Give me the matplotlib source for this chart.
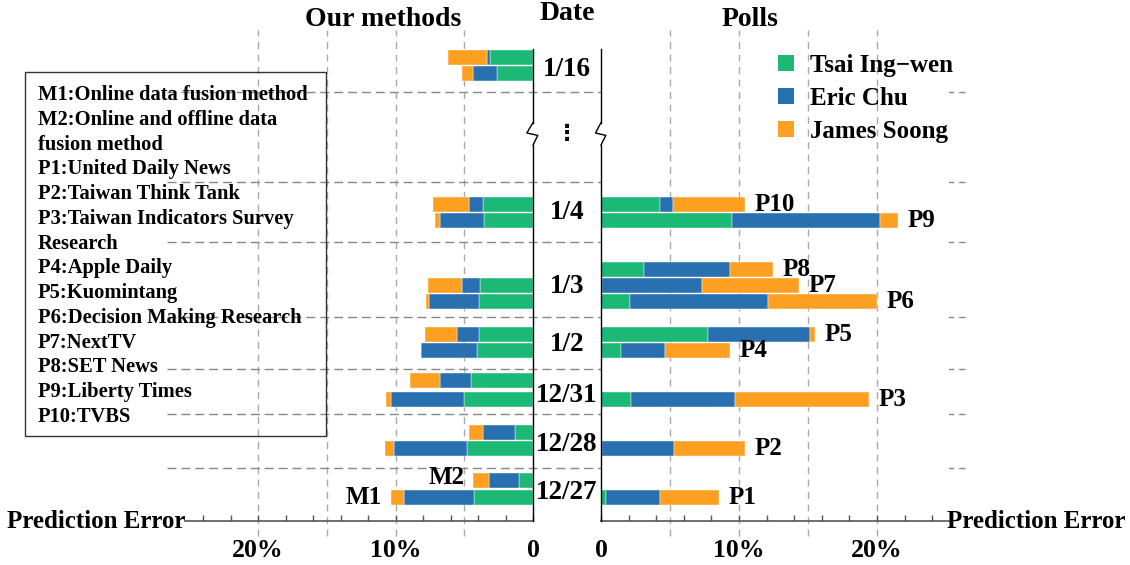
import numpy as np
import matplotlib
matplotlib.use("Agg")
import matplotlib.pyplot as plt
from matplotlib.patches import Patch, Rectangle
from matplotlib.transforms import blended_transform_factory

plt.rcParams['font.family'] = ['Liberation Serif', 'DejaVu Serif']
plt.rcParams['font.weight'] = 'bold'

# ---- data (prediction error, %) ----
dates = ['12/27', '12/28', '12/31', '1/2', '1/3', '1/4', '1/16']
m1_tsai = np.array([4.27, 4.78, 5.00, 4.10, 3.90, 3.56, 2.60])
m1_chu = np.array([5.14, 5.36, 5.36, 4.07, 3.64, 3.20, 1.77])
m1_soong = np.array([0.95, 0.60, 0.34, 0.00, 0.24, 0.39, 0.82])
m2_tsai = np.array([1.00, 1.29, 4.49, 3.93, 3.85, 3.64, 3.13])
m2_chu = np.array([2.18, 2.33, 2.25, 1.58, 1.29, 1.04, 0.20])
m2_soong = np.array([1.21, 1.04, 2.18, 2.35, 2.50, 2.62, 2.84])

polls = ['P1', 'P2', 'P3', 'P4', 'P5', 'P6', 'P7', 'P8', 'P9', 'P10']
poll_tsai = np.array([0.38, 0.05, 2.20, 1.45, 7.78, 2.12, 0.10, 3.14, 9.51, 4.30])
poll_chu = np.array([3.91, 5.22, 7.51, 3.21, 7.39, 10.00, 7.20, 6.23, 10.72, 0.92])
poll_soong = np.array([4.28, 5.14, 9.73, 4.71, 0.34, 7.87, 7.05, 3.09, 1.26, 5.22])

candidates = ['Tsai Ing\u2212wen', 'Eric Chu', 'James Soong']
abbrev_lines = [
    'M1:Online data fusion method',
    'M2:Online and offline data',
    'fusion method',
    'P1:United Daily News',
    'P2:Taiwan Think Tank',
    'P3:Taiwan Indicators Survey',
    'Research',
    'P4:Apple Daily',
    'P5:Kuomintang',
    'P6:Decision Making Research',
    'P7:NextTV',
    'P8:SET News',
    'P9:Liberty Times',
    'P10:TVBS',
]

# ---- layout (row units, 1 row = 16 px above the x axis) ----
y_m1 = np.array([1.47, 4.53, 7.59, 10.66, 13.72, 18.78, 27.97])
y_m2 = np.array([2.53, 5.56, 8.78, 11.66, 14.72, 19.78, 28.97])
y_poll = np.array([1.47, 4.53, 7.59, 10.66, 11.66, 13.72, 14.72, 15.72, 18.78, 19.78])
y_date = np.array([1.78, 4.78, 7.84, 11.06, 14.64, 19.27, 28.2])
y_sep = [3.31, 6.69, 9.5, 12.75, 17.45, 21.2, 26.8]
bar_h = 0.94

colors = ['#1bb876', '#2970b0', '#fda021']
W, H = 1130, 565

fig = plt.figure(figsize=(11.3, 5.65), dpi=100)
ax_l = fig.add_axes([185 / W, (H - 521) / H, 348 / W, 473 / H])
ax_r = fig.add_axes([601 / W, (H - 521) / H, 348 / W, 473 / H])
ax_l.set_xlim(348 / 13.75, 0)
ax_r.set_xlim(0, 348 / 13.8)

for ax in (ax_l, ax_r):
    ax.set_ylim(0, 473 / 16)
    for s in ('top', 'left', 'right'):
        ax.spines[s].set_visible(False)
    ax.spines['bottom'].set_color('#555555')
    ax.spines['bottom'].set_linewidth(1.2)
    ticks = np.arange(0, 25, 2)
    ax.set_xticks(ticks)
    ax.set_xticklabels(['0' if t == 0 else ('%d%%' % t if t % 10 == 0 else '') for t in ticks])
    ax.tick_params(axis='x', direction='in', length=4, width=1, color='#555555',
                   pad=13, labelsize=18.5)
    ax.set_yticks([])
    # vertical grid
    ax.vlines([5, 10, 15, 20], -0.032, 1.038, transform=ax.get_xaxis_transform(),
              colors='#aaaaaa', linestyles=(0, (5, 4)), linewidth=1, clip_on=False, zorder=0)

# horizontal separators across both panels
trans_sep = blended_transform_factory(fig.transFigure, ax_l.transData)
for y in y_sep:
    ax_l.plot([167 / W, 965 / W], [y, y], transform=trans_sep, color='#888888',
              linestyle=(0, (6.5, 3.5)), linewidth=1, clip_on=False, zorder=0)

# method bars
for yy, a, b, c in ((y_m1, m1_tsai, m1_chu, m1_soong), (y_m2, m2_tsai, m2_chu, m2_soong)):
    ax_l.barh(yy, a, bar_h, color=colors[0], edgecolor='white', linewidth=0.3, zorder=2)
    ax_l.barh(yy, b, bar_h, left=a, color=colors[1], edgecolor='white', linewidth=0.3, zorder=2)
    ax_l.barh(yy, c, bar_h, left=a + b, color=colors[2], edgecolor='white', linewidth=0.3, zorder=2)

ax_l.annotate('M1', (m1_tsai[0] + m1_chu[0] + m1_soong[0], y_m1[0]), xytext=(-6, 0),
              textcoords='offset points', ha='right', va='center', fontsize=18)
ax_l.annotate('M2', (m2_tsai[0] + m2_chu[0] + m2_soong[0], y_m2[0]), xytext=(-6, 2),
              textcoords='offset points', ha='right', va='center', fontsize=18)

# poll bars
ax_r.barh(y_poll, poll_tsai, bar_h, color=colors[0], edgecolor='white', linewidth=0.3, zorder=2)
ax_r.barh(y_poll, poll_chu, bar_h, left=poll_tsai, color=colors[1], edgecolor='white', linewidth=0.3, zorder=2)
ax_r.barh(y_poll, poll_soong, bar_h, left=poll_tsai + poll_chu, color=colors[2], edgecolor='white', linewidth=0.3, zorder=2)
totals = poll_tsai + poll_chu + poll_soong
for name, t, yy in zip(polls, totals, y_poll):
    ax_r.annotate(name, (t, yy), xytext=(7, 0), textcoords='offset points',
                  ha='left', va='center', fontsize=18)

# inner spines with break marks
ax_l.plot([0, 0], [29.5, 24.9], color='black', lw=1, clip_on=False, zorder=3)
ax_l.plot([0, 0.45, -0.35, 0], [24.9, 24.25, 24.1, 23.5], color='black', lw=1, clip_on=False, zorder=3)
ax_l.plot([0, 0], [23.5, 0], color='black', lw=1, clip_on=False, zorder=3)
ax_r.plot([0, 0], [29.5, 24.9], color='black', lw=1, clip_on=False, zorder=3)
ax_r.plot([0, -0.4, 0.35, 0], [24.9, 24.25, 24.1, 23.5], color='black', lw=1, clip_on=False, zorder=3)
ax_r.plot([0, 0], [23.5, 0], color='black', lw=1, clip_on=False, zorder=3)

# date labels
trans_date = blended_transform_factory(fig.transFigure, ax_r.transData)
for d, yy in zip(dates, y_date):
    ax_r.text(567 / W, yy, d, transform=trans_date, ha='center', va='center', fontsize=19.5)
ax_r.text(567 / W, 24.2, '\u22ee', transform=trans_date, ha='center', va='center', fontsize=16,
          family=['DejaVu Sans', 'Noto Sans CJK SC', 'Noto Sans'])

# titles
fig.text(383 / W, 1 - 20 / H, 'Our methods', ha='center', va='center', fontsize=20)
fig.text(567 / W, 1 - 13 / H, 'Date', ha='center', va='center', fontsize=20)
fig.text(750 / W, 1 - 20 / H, 'Polls', ha='center', va='center', fontsize=20)
fig.text(185 / W, 1 - 522 / H, 'Prediction Error', ha='right', va='center', fontsize=18)
fig.text(947 / W, 1 - 522 / H, 'Prediction Error', ha='left', va='center', fontsize=18)

# abbreviation box
fig.add_artist(Rectangle((25 / W, 1 - 436 / H), 301 / W, 364 / H, transform=fig.transFigure,
                         fill=False, edgecolor='#333333', linewidth=1))
for i, line in enumerate(abbrev_lines):
    fig.text(38 / W, 1 - (95 + i * 24.77) / H, line, ha='left', va='center', fontsize=14.8)

# candidate legend
handles = [Patch(facecolor=c, edgecolor='none', label=n) for c, n in zip(colors, candidates)]
fig.legend(handles=handles, loc='upper left', bbox_to_anchor=(778 / W, 1 - 54 / H),
           frameon=False, fontsize=18, handlelength=0.62, handleheight=0.62,
           handletextpad=0.65, labelspacing=0.4, borderpad=0, borderaxespad=0)

fig.savefig('out.png', dpi=100)
